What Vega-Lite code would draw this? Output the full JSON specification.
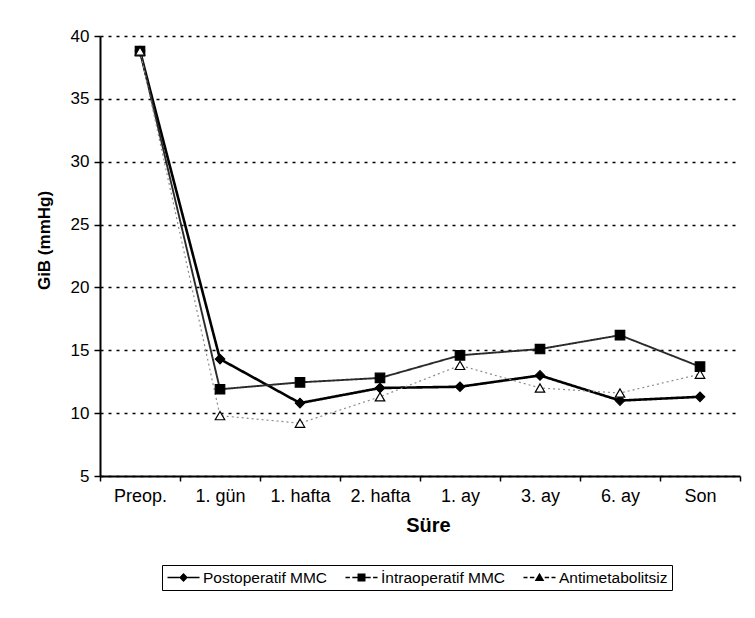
{
  "$schema": "https://vega.github.io/schema/vega-lite/v6.json",
  "width": 640,
  "height": 440,
  "autosize": {"type": "none"},
  "padding": {"left": 100, "top": 36, "right": 15, "bottom": 142},
  "background": "white",
  "config": {
    "view": {"stroke": null},
    "font": "Liberation Sans",
    "legend": {
      "orient": "none",
      "legendX": 62,
      "legendY": 529,
      "direction": "horizontal",
      "gridAlign": "none",
      "labelFont": "Liberation Sans",
      "labelFontSize": 15.5,
      "labelColor": "black",
      "strokeColor": "black",
      "padding": 4,
      "columnPadding": 15,
      "symbolSize": 256,
      "symbolOffset": 9,
      "labelOffset": 11,
      "symbolStrokeWidth": 1,
      "symbolStrokeColor": "black",
      "symbolFillColor": "black",
      "titleFontSize": 0
    }
  },
  "data": {
    "values": [
      {"t": "Preop.", "series": "Postoperatif MMC", "v": 38.8},
      {"t": "1. gün", "series": "Postoperatif MMC", "v": 14.3},
      {"t": "1. hafta", "series": "Postoperatif MMC", "v": 10.8},
      {"t": "2. hafta", "series": "Postoperatif MMC", "v": 12.0},
      {"t": "1. ay", "series": "Postoperatif MMC", "v": 12.1},
      {"t": "3. ay", "series": "Postoperatif MMC", "v": 13.0},
      {"t": "6. ay", "series": "Postoperatif MMC", "v": 11.0},
      {"t": "Son", "series": "Postoperatif MMC", "v": 11.3},
      {"t": "Preop.", "series": "İntraoperatif MMC", "v": 38.8},
      {"t": "1. gün", "series": "İntraoperatif MMC", "v": 11.9},
      {"t": "1. hafta", "series": "İntraoperatif MMC", "v": 12.45},
      {"t": "2. hafta", "series": "İntraoperatif MMC", "v": 12.8},
      {"t": "1. ay", "series": "İntraoperatif MMC", "v": 14.6},
      {"t": "3. ay", "series": "İntraoperatif MMC", "v": 15.1},
      {"t": "6. ay", "series": "İntraoperatif MMC", "v": 16.2},
      {"t": "Son", "series": "İntraoperatif MMC", "v": 13.7},
      {"t": "Preop.", "series": "Antimetabolitsiz", "v": 38.8},
      {"t": "1. gün", "series": "Antimetabolitsiz", "v": 9.8},
      {"t": "1. hafta", "series": "Antimetabolitsiz", "v": 9.2},
      {"t": "2. hafta", "series": "Antimetabolitsiz", "v": 11.3},
      {"t": "1. ay", "series": "Antimetabolitsiz", "v": 13.8},
      {"t": "3. ay", "series": "Antimetabolitsiz", "v": 12.0},
      {"t": "6. ay", "series": "Antimetabolitsiz", "v": 11.6},
      {"t": "Son", "series": "Antimetabolitsiz", "v": 13.1}
    ]
  },
  "encoding": {
    "x": {
      "field": "t",
      "type": "nominal",
      "sort": ["Preop.", "1. gün", "1. hafta", "2. hafta", "1. ay", "3. ay", "6. ay", "Son"],
      "scale": {"paddingInner": 0, "paddingOuter": 0},
      "axis": {
        "title": "Süre",
        "titleFontSize": 20,
        "titleFontWeight": "bold",
        "titleColor": "black",
        "titlePadding": 10,
        "titleX": 328,
        "labelFontSize": 18,
        "labelColor": "black",
        "labelPadding": 6,
        "labelAngle": 0,
        "tickSize": 5,
        "tickColor": "black",
        "tickWidth": 1.5,
        "tickBand": "extent",
        "domainColor": "black",
        "domainWidth": 2,
        "grid": false
      }
    },
    "y": {
      "field": "v",
      "type": "quantitative",
      "scale": {"domain": [5, 40], "nice": false, "zero": false},
      "axis": {
        "title": "GiB (mmHg)",
        "values": [5, 10, 15, 20, 25, 30, 35, 40],
        "titleFontSize": 17,
        "titleFontWeight": "bold",
        "titleColor": "black",
        "titlePadding": 17,
        "titleY": 204,
        "labelFontSize": 17,
        "labelColor": "black",
        "labelPadding": 5,
        "tickSize": 6,
        "tickColor": "black",
        "tickWidth": 1.5,
        "domainColor": "black",
        "domainWidth": 2,
        "grid": true,
        "gridColor": "black",
        "gridDash": [3, 5],
        "gridWidth": 1.3
      }
    }
  },
  "resolve": {"scale": {"shape": "independent"}},
  "layer": [
    {
      "mark": {"type": "line"},
      "encoding": {
        "stroke": {
          "field": "series",
          "type": "nominal",
          "scale": {"domain": ["Postoperatif MMC", "İntraoperatif MMC", "Antimetabolitsiz"], "range": ["#000000", "#2a2a2a", "#8c8c8c"]},
          "legend": null
        },
        "strokeWidth": {
          "field": "series",
          "type": "nominal",
          "scale": {"domain": ["Postoperatif MMC", "İntraoperatif MMC", "Antimetabolitsiz"], "range": [2.6, 1.2]},
          "legend": null
        },
        "strokeDash": {
          "field": "series",
          "type": "nominal",
          "scale": {"domain": ["Postoperatif MMC", "İntraoperatif MMC", "Antimetabolitsiz"], "range": [[1, 0], [1, 0], [2, 3]]},
          "legend": null
        }
      }
    },
    {
      "mark": {"type": "point", "filled": true, "opacity": 1, "stroke": "black", "strokeWidth": 1.2, "size": 90},
      "encoding": {
        "fill": {
          "field": "series",
          "type": "nominal",
          "scale": {"domain": ["Postoperatif MMC", "İntraoperatif MMC", "Antimetabolitsiz"], "range": ["#000000", "#000000", "#ffffff"]},
          "legend": null
        },
        "shape": {
          "field": "series",
          "type": "nominal",
          "scale": {"domain": ["Postoperatif MMC", "İntraoperatif MMC", "Antimetabolitsiz"], "range": ["diamond", "square", "triangle-up"]},
          "legend": null
        }
      }
    },
    {
      "transform": [{"filter": "datum.v < 0"}],
      "mark": {"type": "point", "filled": true, "opacity": 1, "color": "black", "stroke": "black", "strokeWidth": 1},
      "encoding": {
        "shape": {
          "field": "series",
          "type": "nominal",
          "title": null,
          "scale": {
            "domain": ["Postoperatif MMC", "İntraoperatif MMC", "Antimetabolitsiz"],
            "range": [
              "M-2,-0.1H-0.5V0.1H-2ZM0.5,-0.1H2V0.1H0.5ZM-0.55,0L0,-0.55L0.55,0L0,0.55Z",
              "M-2,-0.08H-1.45V0.08H-2ZM-1.15,-0.08H-0.5V0.08H-1.15ZM0.5,-0.08H1.15V0.08H0.5ZM1.45,-0.08H2V0.08H1.45ZM-0.5,-0.5H0.5V0.5H-0.5Z",
              "M-2,-0.08H-1.5V0.08H-2ZM-1.2,-0.08H-0.65V0.08H-1.2ZM0.65,-0.08H1.2V0.08H0.65ZM1.5,-0.08H2V0.08H1.5ZM0,-0.6L0.6,0.45H-0.6Z"
            ]
          },
          "legend": {"title": null}
        }
      }
    }
  ]
}
